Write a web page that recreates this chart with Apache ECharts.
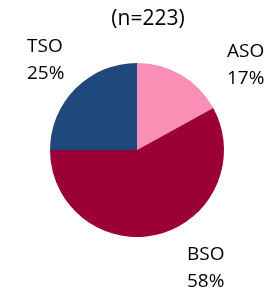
<!DOCTYPE html>
<html>
<head>
<meta charset="utf-8">
<script src="https://cdn.jsdelivr.net/npm/echarts@6/dist/echarts.min.js"></script>
<style>
  html, body { margin: 0; padding: 0; background: #fff; }
  #my_chart { width: 273px; height: 287px; }
</style>
</head>
<body>
<div id="my_chart"></div>
<script>
// 数据
var categories = ['ASO', 'BSO', 'TSO'];
var shares = [17, 58, 25];
var colors = ['#F98FB4', '#9B0036', '#1F497C'];
var subtitle = '(n=223)';

var myChart = echarts.init(document.getElementById('my_chart'));

var pieData = [];
for (var i = 0; i < categories.length; i++) {
    pieData.push({ name: categories[i], value: shares[i], itemStyle: { color: colors[i] } });
}

var option = {
    animation: false,
    title: {
        text: subtitle,
        left: 143,
        top: 4,
        textAlign: 'center',
        textStyle: { fontFamily: 'Open Sans', fontWeight: 'normal', fontSize: 21, color: '#000' }
    },
    series: [
        {
            type: 'pie',
            center: [137, 150],
            radius: [0, 87],
            startAngle: 90,
            clockwise: true,
            data: pieData,
            label: {
                show: true,
                position: 'outside',
                formatter: '{b}\n{c}%',
                fontFamily: 'Open Sans',
                fontSize: 19,
                lineHeight: 27,
                color: '#000',
                align: 'left',
                overflow: 'none',
                width: 60
            },
            labelLine: { show: false },
            labelLayout: function (params) {
                // 标签放在扇区外侧
                var off = [[90, -112], [50, 91], [-110, -117]][params.dataIndex];
                return { x: 137 + off[0], y: 150 + off[1], align: 'left', verticalAlign: 'top' };
            }
        }
    ]
};

myChart.setOption(option, true);
</script>
</body>
</html>
